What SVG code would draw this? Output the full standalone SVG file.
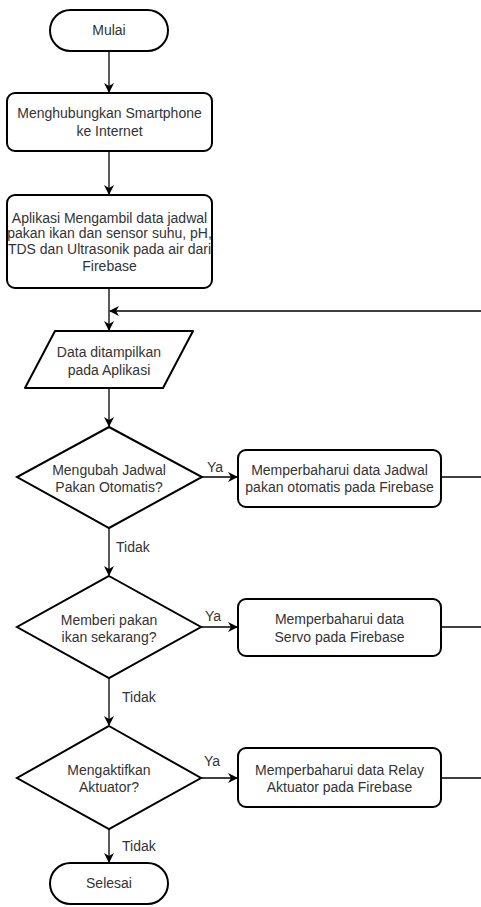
<svg xmlns="http://www.w3.org/2000/svg" width="481" height="907" viewBox="0 0 481 907">
<style>
.s{fill:#fff;stroke:#000;stroke-width:2}
.t{font-family:"Liberation Sans",Arial,sans-serif;font-size:14px;fill:#333;text-anchor:middle}
.l{font-family:"Liberation Sans",Arial,sans-serif;font-size:14px;fill:#333}
.c{fill:none;stroke:#000;stroke-width:1.3}
</style>
<defs>
<marker id="a" viewBox="0 0 10 10" refX="9" refY="5" markerWidth="10" markerHeight="10" markerUnits="userSpaceOnUse" orient="auto">
<path d="M0,0 L10,5 L0,10 L3,5 Z" fill="#000"/>
</marker>
</defs>
<rect width="481" height="907" fill="#fff"/>
<g id="connectors">
<path class="c" d="M109,51 V92" marker-end="url(#a)"/>
<path class="c" d="M109,151 V194" marker-end="url(#a)"/>
<path class="c" d="M109,288 V330" marker-end="url(#a)"/>
<path class="c" d="M481,311 H110" marker-end="url(#a)"/>
<path class="c" d="M109,388 V426" marker-end="url(#a)"/>
<path class="c" d="M202,477 H237" marker-end="url(#a)"/>
<path class="c" d="M441,477 H481"/>
<path class="c" d="M109,528 V575" marker-end="url(#a)"/>
<path class="c" d="M201,627 H237" marker-end="url(#a)"/>
<path class="c" d="M441,627 H481"/>
<path class="c" d="M109,678 V725" marker-end="url(#a)"/>
<path class="c" d="M201,778 H237" marker-end="url(#a)"/>
<path class="c" d="M441,778 H481"/>
<path class="c" d="M109,829 V862" marker-end="url(#a)"/>
<text class="l" x="207" y="472">Ya</text>
<text class="l" x="205" y="621">Ya</text>
<text class="l" x="204" y="766">Ya</text>
<text class="l" x="116" y="552">Tidak</text>
<text class="l" x="122" y="702">Tidak</text>
<text class="l" x="122" y="851">Tidak</text>
</g>
<g id="mulai">
<rect class="s" x="50" y="10" width="118" height="41" rx="20.5"/>
<text class="t" x="109" y="35">Mulai</text>
</g>
<g id="hubungkan">
<rect class="s" x="7" y="93" width="205" height="58" rx="8"/>
<text class="t" x="109.5" y="118">Menghubungkan Smartphone</text>
<text class="t" x="109.5" y="136">ke Internet</text>
</g>
<g id="ambil">
<rect class="s" x="7" y="195" width="205" height="93" rx="8"/>
<text class="t" x="109.5" y="223">Aplikasi Mengambil data jadwal</text>
<text class="t" x="109.5" y="238">pakan ikan dan sensor suhu, pH,</text>
<text class="t" x="109.5" y="254">TDS dan Ultrasonik pada air dari</text>
<text class="t" x="109.5" y="271">Firebase</text>
</g>
<g id="tampil">
<path class="s" d="M55,331 H193 L163,388 H25 Z" stroke-linejoin="round"/>
<text class="t" x="109" y="357">Data ditampilkan</text>
<text class="t" x="109" y="375">pada Aplikasi</text>
</g>
<g id="d1">
<path class="s" d="M109,427 L202,477 L109,528 L17,477 Z"/>
<text class="t" x="109" y="475">Mengubah Jadwal</text>
<text class="t" x="109" y="492">Pakan Otomatis?</text>
</g>
<g id="b1">
<rect class="s" x="238" y="450" width="203" height="57" rx="8"/>
<text class="t" x="339.5" y="475">Memperbaharui data Jadwal</text>
<text class="t" x="339.5" y="492">pakan otomatis pada Firebase</text>
</g>
<g id="d2">
<path class="s" d="M109,576 L201,627 L109,678 L17,627 Z"/>
<text class="t" x="109" y="625">Memberi pakan</text>
<text class="t" x="109" y="642">ikan sekarang?</text>
</g>
<g id="b2">
<rect class="s" x="238" y="599" width="203" height="57" rx="8"/>
<text class="t" x="339.5" y="624">Memperbaharui data</text>
<text class="t" x="339.5" y="642">Servo pada Firebase</text>
</g>
<g id="d3">
<path class="s" d="M109,726 L201,778 L109,829 L17,778 Z"/>
<text class="t" x="109" y="775">Mengaktifkan</text>
<text class="t" x="109" y="792">Aktuator?</text>
</g>
<g id="b3">
<rect class="s" x="238" y="748" width="203" height="59" rx="8"/>
<text class="t" x="339.5" y="775">Memperbaharui data Relay</text>
<text class="t" x="339.5" y="792">Aktuator pada Firebase</text>
</g>
<g id="selesai">
<rect class="s" x="50" y="863" width="118" height="41" rx="20.5"/>
<text class="t" x="109" y="888">Selesai</text>
</g>
</svg>
